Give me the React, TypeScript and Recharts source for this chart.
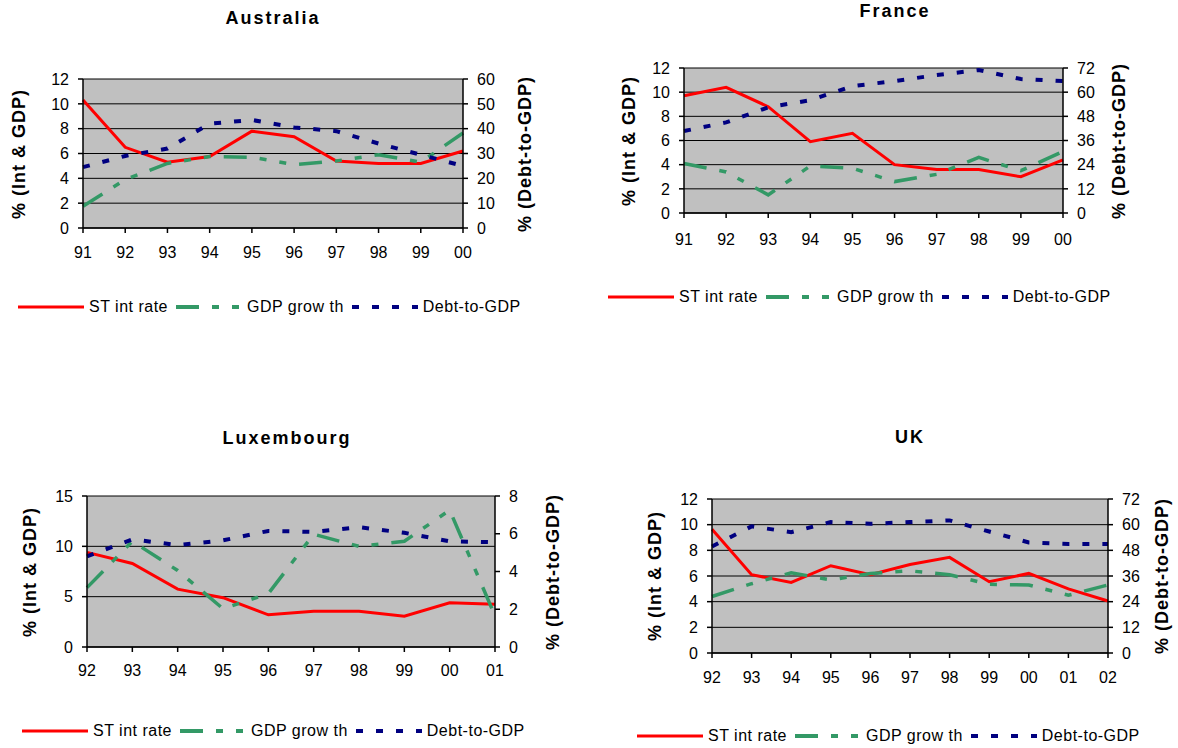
import React from 'react';
import { LineChart, Line, XAxis, YAxis, CartesianGrid } from 'recharts';

const FONT = '"Liberation Sans", Arial, sans-serif';

// Australia
const yearsAU = ['91', '92', '93', '94', '95', '96', '97', '98', '99', '00'];
const stAU = [10.3, 6.5, 5.3, 5.75, 7.8, 7.35, 5.4, 5.2, 5.2, 6.2];
const gdpAU = [1.75, 3.9, 5.2, 5.75, 5.7, 5.1, 5.4, 5.9, 5.3, 7.65];
const debtAU = [24.5, 29, 32, 42, 43.5, 40.5, 39, 34, 29.5, 25];

// France
const yearsFR = ['91', '92', '93', '94', '95', '96', '97', '98', '99', '00'];
const stFR = [9.7, 10.4, 8.8, 5.9, 6.6, 4.0, 3.6, 3.6, 3.0, 4.4];
const gdpFR = [4.1, 3.4, 1.5, 3.9, 3.7, 2.6, 3.2, 4.6, 3.5, 5.1];
const debtFR = [40.7, 45, 52.5, 56, 63, 65.5, 68.5, 71, 66.5, 65.5];

// Luxembourg
const yearsLU = ['92', '93', '94', '95', '96', '97', '98', '99', '00', '01'];
const stLU = [9.4, 8.3, 5.75, 4.9, 3.2, 3.55, 3.55, 3.05, 4.4, 4.25];
const gdpLU = [5.9, 10.5, 7.6, 3.8, 5.3, 11.2, 10.0, 10.5, 13.6, 3.1];
const debtLU = [4.8, 5.7, 5.4, 5.65, 6.15, 6.1, 6.35, 6.05, 5.6, 5.55];

// UK
const yearsUK = ['92', '93', '94', '95', '96', '97', '98', '99', '00', '01', '02'];
const stUK = [9.65, 6.1, 5.5, 6.8, 6.1, 6.9, 7.45, 5.55, 6.2, 5.0, 4.05];
const gdpUK = [4.4, 5.4, 6.25, 5.7, 6.2, 6.4, 6.1, 5.35, 5.3, 4.5, 5.3];
const debtUK = [49.8, 59.2, 56.5, 61.2, 60.4, 61.2, 62, 56.8, 51.7, 51, 51];

const ticks12 = [0, 2, 4, 6, 8, 10, 12];
const ticks15 = [0, 5, 10, 15];
const ticks60 = [0, 10, 20, 30, 40, 50, 60];
const ticks72 = [0, 12, 24, 36, 48, 60, 72];
const ticks8 = [0, 2, 4, 6, 8];

const seriesNames = ['ST int rate', 'GDP grow th', 'Debt-to-GDP'];
const leftTitle = '% (Int & GDP)';
const rightTitle = '% (Debt-to-GDP)';

const RED = '#FF0000';
const GREEN = '#339966';
const NAVY = '#000080';
const GREEN_DASH = '23 13 7 13 7 13';
const NAVY_DASH = '7 13';

function rows(years: string[], st: number[], gdp: number[], debt: number[]) {
  return years.map((year, i) => ({ year, st: st[i], gdp: gdp[i], debt: debt[i] }));
}

const panels = [
  {
    title: 'Australia', data: rows(yearsAU, stAU, gdpAU, debtAU),
    leftTicks: ticks12, rightTicks: ticks60,
    plot: [83, 79, 463, 228], titleX: 273, titleY: 18, leftGap: 64, rightGap: 62, legend: [18, 307], xMargin: 14,
  },
  {
    title: 'France', data: rows(yearsFR, stFR, gdpFR, debtFR),
    leftTicks: ticks12, rightTicks: ticks72,
    plot: [684, 68, 1063, 213], titleX: 895, titleY: 11, leftGap: 55, rightGap: 56, legend: [608, 297], xMargin: 16,
  },
  {
    title: 'Luxembourg', data: rows(yearsLU, stLU, gdpLU, debtLU),
    leftTicks: ticks15, rightTicks: ticks8,
    plot: [87, 496, 495, 647], titleX: 287, titleY: 438, leftGap: 57, rightGap: 58, legend: [22, 731], xMargin: 13,
  },
  {
    title: 'UK', data: rows(yearsUK, stUK, gdpUK, debtUK),
    leftTicks: ticks12, rightTicks: ticks72,
    plot: [712, 499, 1108, 653], titleX: 910, titleY: 437, leftGap: 57, rightGap: 54, legend: [637, 736], xMargin: 14,
  },
];

const AX = 80;
const TOP = 10;
const XH = 45;

const tickStyle = { fill: '#000', fontSize: 16, fontFamily: FONT };
const axisLine = { stroke: '#000', strokeWidth: 1.5 };

function Swatch({ color, width, dash }: { color: string; width: number; dash?: string }) {
  return (
    <svg width={66} height={8} style={{ display: 'block' }}>
      <line x1={0} y1={4} x2={66} y2={4} stroke={color} strokeWidth={width} strokeDasharray={dash} />
    </svg>
  );
}

function LegendRow({ x, y }: { x: number; y: number }) {
  const txt = { marginLeft: 5, marginRight: 8, letterSpacing: 0.5 };
  return (
    <div style={{
      position: 'absolute', left: x, top: y - 10, height: 20, display: 'flex', alignItems: 'center',
      fontFamily: FONT, fontSize: 16, whiteSpace: 'nowrap', color: '#000',
    }}>
      <Swatch color={RED} width={3} />
      <span style={txt}>{seriesNames[0]}</span>
      <Swatch color={GREEN} width={4} dash={GREEN_DASH} />
      <span style={txt}>{seriesNames[1]}</span>
      <Swatch color={NAVY} width={4} dash={NAVY_DASH} />
      <span style={txt}>{seriesNames[2]}</span>
    </div>
  );
}

function Panel({ p }: { p: (typeof panels)[number] }) {
  const [x0, y0, x1, y1] = p.plot;
  const W = x1 - x0 + 2 * AX;
  const H = y1 - y0 + TOP + XH;
  const midY = (y0 + y1) / 2;
  const leftMax = p.leftTicks[p.leftTicks.length - 1];
  const rightMax = p.rightTicks[p.rightTicks.length - 1];
  const rotated = {
    position: 'absolute' as const, top: midY, transform: 'translate(-50%, -50%) rotate(-90deg)',
    fontFamily: FONT, fontSize: 18, fontWeight: 700, letterSpacing: 1, whiteSpace: 'nowrap' as const, color: '#000',
  };
  return (
    <>
      <div style={{
        position: 'absolute', left: p.titleX, top: p.titleY, transform: 'translate(-50%, -50%)',
        fontFamily: FONT, fontSize: 18, lineHeight: '18px', fontWeight: 700, letterSpacing: 2,
        whiteSpace: 'nowrap', color: '#000',
      }}>{p.title}</div>
      <div style={{ position: 'absolute', left: x0 - AX, top: y0 - TOP }}>
        <LineChart width={W} height={H} data={p.data} margin={{ top: TOP, right: 0, bottom: 0, left: 0 }}>
          <CartesianGrid yAxisId="left" vertical={false} stroke="#000" strokeWidth={1} fill="#C0C0C0" fillOpacity={1} />
          <XAxis dataKey="year" interval={0} height={XH} tickSize={5} tickMargin={p.xMargin}
            axisLine={axisLine} tickLine={axisLine} tick={tickStyle} />
          <YAxis yAxisId="left" width={AX} domain={[0, leftMax]} ticks={p.leftTicks} interval={0}
            tickSize={5} tickMargin={9} axisLine={axisLine} tickLine={axisLine} tick={tickStyle} />
          <YAxis yAxisId="right" orientation="right" width={AX} domain={[0, rightMax]} ticks={p.rightTicks} interval={0}
            tickSize={5} tickMargin={9} axisLine={axisLine} tickLine={axisLine} tick={tickStyle} />
          <Line yAxisId="left" dataKey="st" stroke={RED} strokeWidth={3} dot={false} isAnimationActive={false} />
          <Line yAxisId="left" dataKey="gdp" stroke={GREEN} strokeWidth={3.5} strokeDasharray={GREEN_DASH}
            dot={false} isAnimationActive={false} />
          <Line yAxisId="right" dataKey="debt" stroke={NAVY} strokeWidth={4} strokeDasharray={NAVY_DASH}
            dot={false} isAnimationActive={false} />
        </LineChart>
      </div>
      <div style={{ ...rotated, left: x0 - p.leftGap }}>{leftTitle}</div>
      <div style={{ ...rotated, left: x1 + p.rightGap }}>{rightTitle}</div>
      <LegendRow x={p.legend[0]} y={p.legend[1]} />
    </>
  );
}

export default function App() {
  return (
    <div style={{ position: 'absolute', left: 0, top: 0, width: 1178, height: 748, background: '#fff', overflow: 'hidden' }}>
      {panels.map((p) => <Panel key={p.title} p={p} />)}
    </div>
  );
}
